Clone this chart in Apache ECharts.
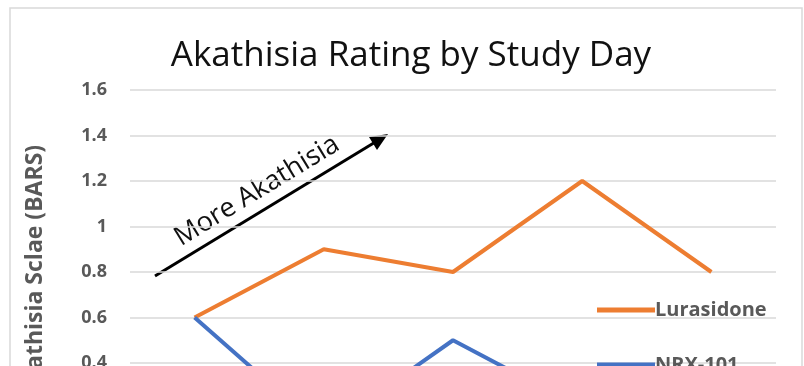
<!DOCTYPE html>
<html>
<head>
<meta charset="utf-8">
<script src="https://cdn.jsdelivr.net/npm/echarts@6/dist/echarts.min.js"></script>
<style>
  html, body { margin: 0; padding: 0; background: #fff; }
  #main { width: 804px; height: 366px; }
</style>
</head>
<body>
<div id="main"></div>
<script>
// 数据
var days = ['Day 1', 'Day 2', 'Day 3', 'Day 4', 'Day 5'];
var lurasidone = [0.6, 0.9, 0.8, 1.2, 0.8];
var nrx101 = [0.6, 0.1, 0.5, 0.2, 0.2];
var seriesNames = ['Lurasidone', 'NRX-101'];

var legendText = { fontFamily: 'Open Sans', fontSize: 20, fontWeight: 'bold', color: '#595959', padding: [0, 0, 0, -5] };

var myChart = echarts.init(document.getElementById('main'));
var option = {
	backgroundColor: '#fff',
	animation: false,
	title: {
		text: 'Akathisia Rating by Study Day',
		left: 406,
		textAlign: 'center',
		top: 34,
		textStyle: { fontFamily: 'Open Sans', fontSize: 35, fontWeight: 'normal', color: '#111' }
	},
	grid: { left: 130, top: 90, width: 646, height: 364, outerBoundsMode: 'none' },
	legend: [
		{ left: 592, top: 295, itemWidth: 58, itemHeight: 5, icon: 'rect', data: [seriesNames[0]], textStyle: legendText },
		{ left: 592, top: 350, itemWidth: 58, itemHeight: 5, icon: 'rect', data: [seriesNames[1]], textStyle: legendText }
	],
	xAxis: {
		type: 'category',
		data: days,
		axisLine: { show: false },
		axisTick: { show: false },
		axisLabel: { show: false }
	},
	yAxis: {
		type: 'value',
		min: 0,
		max: 1.6,
		interval: 0.2,
		name: 'Akathisia Sclae (BARS)',
		nameLocation: 'middle',
		nameGap: 83,
		nameTextStyle: { fontFamily: 'Open Sans', fontSize: 23, fontWeight: 'bold', color: '#595959' },
		axisLabel: {
			fontFamily: 'Open Sans', fontSize: 18, fontWeight: 'bold', color: '#595959', margin: 23,
			formatter: function (v) { return String(Math.round(v * 10) / 10); }
		},
		splitLine: { lineStyle: { color: '#d9d9d9', width: 1.5 } }
	},
	series: [
		{ name: seriesNames[0], type: 'line', data: lurasidone, symbol: 'none', color: '#ED7D31', lineStyle: { width: 4 } },
		{ name: seriesNames[1], type: 'line', data: nrx101, symbol: 'none', color: '#4472C4', lineStyle: { width: 4 } }
	],
	graphic: [
		{ type: 'rect', shape: { x: 10, y: 8, width: 792, height: 400 }, style: { fill: 'none', stroke: '#d9d9d9', lineWidth: 1.5 }, silent: true },
		{ type: 'line', shape: { x1: 155, y1: 276, x2: 377, y2: 141 }, style: { stroke: '#000', lineWidth: 3 } },
		{ type: 'polygon', shape: { points: [[388, 134], [369, 137], [377, 150]] }, style: { fill: '#000' } },
		{ type: 'text', x: 257, y: 191, rotation: 31.4 * Math.PI / 180,
		  style: { text: 'More Akathisia', fontFamily: 'Open Sans', fontSize: 27, fill: '#111', align: 'center', verticalAlign: 'middle' } }
	]
};
myChart.setOption(option);
</script>
</body>
</html>
